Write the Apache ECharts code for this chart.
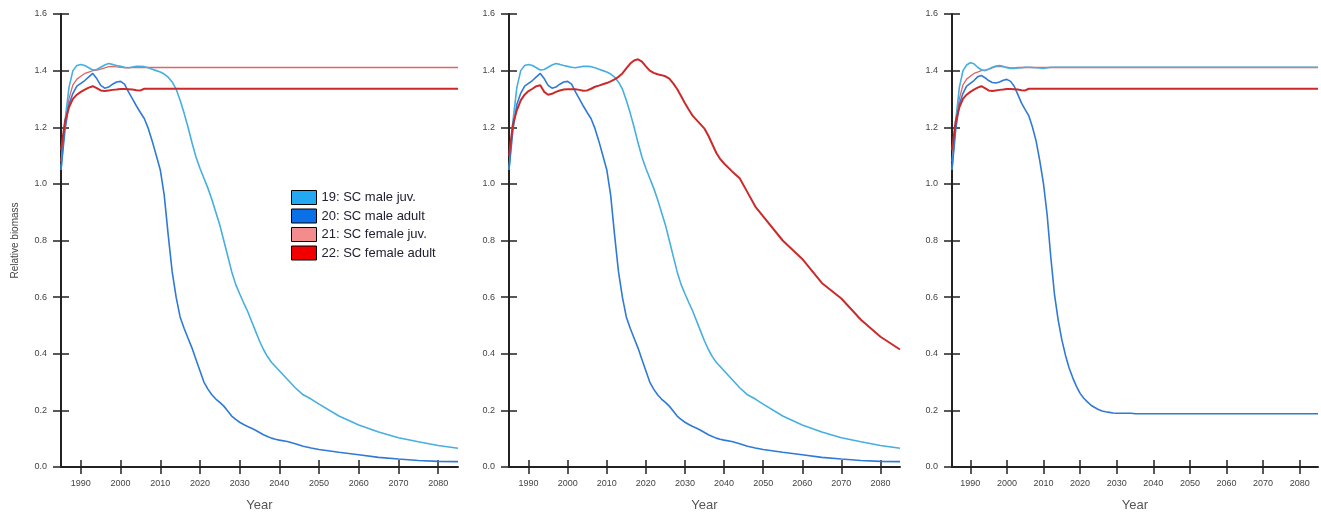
<!DOCTYPE html>
<html>
<head>
<meta charset="utf-8">
<title>Relative biomass</title>
<script src="https://cdn.jsdelivr.net/npm/echarts@6/dist/echarts.min.js"></script>
<style>
  html, body { margin: 0; padding: 0; background: #fff; }
  #chart { width: 1321px; height: 517px; }
</style>
</head>
<body>
<div id="chart"></div>
<script>
// years: annual 1985-2040, then sparser to 2085
const years = [
  1985, 1986, 1987, 1988, 1989, 1990, 1991, 1992, 1993, 1994,
  1995, 1996, 1997, 1998, 1999, 2000, 2001, 2002, 2003, 2004,
  2005, 2006, 2007, 2008, 2009, 2010, 2011, 2012, 2013, 2014,
  2015, 2016, 2017, 2018, 2019, 2020, 2021, 2022, 2023, 2024,
  2025, 2026, 2027, 2028, 2029, 2030, 2031, 2032, 2033, 2034,
  2035, 2036, 2037, 2038, 2039, 2040,
  2042, 2044, 2046, 2048, 2050, 2055, 2060, 2065, 2070, 2075, 2080, 2085
]
const yearTicks = [1990, 2000, 2010, 2020, 2030, 2040, 2050, 2060, 2070, 2080]

const seriesNames = ['19: SC male juv.', '20: SC male adult', '21: SC female juv.', '22: SC female adult']

// panels 1 and 2 (male groups)
const maleJuv = [
  1.05, 1.22, 1.34, 1.40, 1.418, 1.422, 1.418, 1.41, 1.402, 1.404,
  1.412, 1.42, 1.425, 1.422, 1.418, 1.415, 1.412, 1.41, 1.413, 1.415,
  1.415, 1.414, 1.41, 1.405, 1.40, 1.395, 1.388, 1.377, 1.36, 1.335,
  1.295, 1.25, 1.20, 1.145, 1.095, 1.055, 1.02, 0.985, 0.945, 0.90,
  0.855, 0.80, 0.745, 0.69, 0.645, 0.612, 0.58, 0.55, 0.515, 0.48,
  0.445, 0.415, 0.39, 0.37, 0.355, 0.34,
  0.31, 0.28, 0.255, 0.24, 0.222, 0.18, 0.148, 0.124, 0.103, 0.089, 0.076, 0.066
]
const maleAdult = [
  1.05, 1.19, 1.28, 1.32, 1.345, 1.355, 1.365, 1.378, 1.39, 1.372,
  1.348, 1.338, 1.342, 1.352, 1.36, 1.362, 1.352, 1.325, 1.30, 1.275,
  1.252, 1.23, 1.195, 1.15, 1.10, 1.05, 0.96, 0.82, 0.69, 0.60,
  0.53, 0.49, 0.455, 0.42, 0.38, 0.34, 0.30, 0.275, 0.255, 0.24,
  0.228, 0.215, 0.198, 0.18, 0.168, 0.158, 0.15, 0.143, 0.137, 0.13,
  0.122, 0.114, 0.108, 0.102, 0.098, 0.095,
  0.09, 0.082, 0.073, 0.067, 0.062, 0.052, 0.043, 0.034, 0.028, 0.023, 0.02, 0.019
]
// panels 1 and 3 (female groups)
const femaleJuv = [
  1.08, 1.22, 1.30, 1.35, 1.37, 1.38, 1.39, 1.395, 1.40, 1.402,
  1.405, 1.41, 1.414, 1.415, 1.413, 1.412, 1.41, 1.41, 1.411, 1.411,
  1.411, 1.411, 1.411, 1.411, 1.411, 1.411, 1.411, 1.411, 1.411, 1.411,
  1.411, 1.411, 1.411, 1.411, 1.411, 1.411, 1.411, 1.411, 1.411, 1.411,
  1.411, 1.411, 1.411, 1.411, 1.411, 1.411, 1.411, 1.411, 1.411, 1.411,
  1.411, 1.411, 1.411, 1.411, 1.411, 1.411,
  1.411, 1.411, 1.411, 1.411, 1.411, 1.411, 1.411, 1.411, 1.411, 1.411, 1.411, 1.411
]
const femaleAdult = [
  1.12, 1.22, 1.27, 1.30, 1.315, 1.325, 1.333, 1.34, 1.345, 1.338,
  1.33, 1.328, 1.33, 1.332, 1.333, 1.335, 1.335, 1.334, 1.333, 1.331,
  1.33, 1.336, 1.336, 1.336, 1.336, 1.336, 1.336, 1.336, 1.336, 1.336,
  1.336, 1.336, 1.336, 1.336, 1.336, 1.336, 1.336, 1.336, 1.336, 1.336,
  1.336, 1.336, 1.336, 1.336, 1.336, 1.336, 1.336, 1.336, 1.336, 1.336,
  1.336, 1.336, 1.336, 1.336, 1.336, 1.336,
  1.336, 1.336, 1.336, 1.336, 1.336, 1.336, 1.336, 1.336, 1.336, 1.336, 1.336, 1.336
]
// panel 2 female adult
const femaleAdult2 = [
  1.10, 1.21, 1.26, 1.295, 1.315, 1.328, 1.336, 1.345, 1.348, 1.325,
  1.315, 1.318, 1.325, 1.33, 1.333, 1.334, 1.334, 1.334, 1.332, 1.329,
  1.33, 1.336, 1.343, 1.347, 1.352, 1.356, 1.362, 1.369, 1.378, 1.39,
  1.408, 1.425, 1.436, 1.44, 1.432, 1.415, 1.40, 1.392, 1.387, 1.384,
  1.38, 1.372, 1.355, 1.335, 1.31, 1.285, 1.262, 1.24, 1.225, 1.21,
  1.195, 1.17, 1.14, 1.11, 1.088, 1.072,
  1.045, 1.02, 0.97, 0.92, 0.885, 0.80, 0.735, 0.65, 0.595, 0.52, 0.46, 0.415
]
// panel 3 male groups
const maleJuv3 = [
  1.05, 1.22, 1.34, 1.40, 1.42, 1.428, 1.424, 1.412, 1.403, 1.40,
  1.405, 1.412, 1.416, 1.418, 1.415, 1.41, 1.408, 1.408, 1.409, 1.41,
  1.412, 1.412, 1.411, 1.41, 1.409, 1.408, 1.41, 1.412, 1.412, 1.412,
  1.412, 1.412, 1.412, 1.412, 1.412, 1.412, 1.412, 1.412, 1.412, 1.412,
  1.412, 1.412, 1.412, 1.412, 1.412, 1.412, 1.412, 1.412, 1.412, 1.412,
  1.412, 1.412, 1.412, 1.412, 1.412, 1.412,
  1.412, 1.412, 1.412, 1.412, 1.412, 1.412, 1.412, 1.412, 1.412, 1.412, 1.412, 1.412
]
const maleAdult3 = [
  1.05, 1.19, 1.28, 1.32, 1.345, 1.355, 1.365, 1.378, 1.383, 1.375,
  1.365, 1.358, 1.356, 1.36, 1.366, 1.369, 1.362, 1.345, 1.315, 1.285,
  1.262, 1.24, 1.20, 1.15, 1.08, 1.0, 0.89, 0.74, 0.61, 0.52,
  0.45, 0.395, 0.35, 0.315, 0.285, 0.26, 0.243, 0.23, 0.218, 0.21,
  0.203, 0.198, 0.195, 0.193, 0.191, 0.19, 0.19, 0.19, 0.19, 0.19,
  0.188, 0.188, 0.188, 0.188, 0.188, 0.188,
  0.188, 0.188, 0.188, 0.188, 0.188, 0.188, 0.188, 0.188, 0.188, 0.188, 0.188, 0.188
]

const boxColors = ['#22a9f2', '#0b6fe8', '#f38c8c', '#f20000']
const lineColors = ['#45afe0', '#2f7ad6', '#e06666', '#cc2a2a']
const lineWidths = [1.6, 1.6, 1.3, 2]

const FONT = "'Liberation Sans', Arial, sans-serif"

const grids = [
  { left: 61, top: 14, width: 397, height: 455 },
  { left: 509, top: 14, width: 391, height: 455 },
  { left: 952, top: 14, width: 366, height: 455 }
]

// which data goes in which panel (index into seriesNames), drawn in this order
const panels = [
  [[2, femaleJuv], [0, maleJuv], [1, maleAdult], [3, femaleAdult]],
  [[0, maleJuv], [1, maleAdult], [3, femaleAdult2]],
  [[2, femaleJuv], [0, maleJuv3], [1, maleAdult3], [3, femaleAdult]]
]

let xAxes = []
let yAxes = []
let series = []

grids.forEach((g, k) => {
  // main axes (outside ticks + labels)
  xAxes.push({
    type: 'value', gridIndex: k, min: 1985, max: 2085,
    splitLine: { show: false },
    axisLine: { lineStyle: { color: '#222', width: 2 } },
    axisTick: { length: 7, customValues: yearTicks, lineStyle: { color: '#222', width: 1.5 } },
    axisLabel: { customValues: yearTicks, fontSize: 9, color: '#444', margin: 12, fontFamily: FONT, formatter: v => String(v) },
    name: 'Year', nameLocation: 'middle', nameGap: 32,
    nameTextStyle: { fontSize: 13, color: '#555', fontFamily: FONT }
  })
  // inside ticks so they cross the axis line
  xAxes.push({
    type: 'value', gridIndex: k, min: 1985, max: 2085, position: 'bottom',
    splitLine: { show: false },
    axisLine: { show: false },
    axisTick: { inside: true, length: 7, customValues: yearTicks, lineStyle: { color: '#222', width: 1.5 } },
    axisLabel: { show: false }
  })
  yAxes.push({
    type: 'value', gridIndex: k, min: 0, max: 1.6, interval: 0.2,
    splitLine: { show: false },
    axisLine: { lineStyle: { color: '#222', width: 2 } },
    axisTick: { length: 8, lineStyle: { color: '#222', width: 1.5 } },
    axisLabel: { fontSize: 9, color: '#444', margin: 14, fontFamily: FONT, formatter: v => v.toFixed(1) },
    name: k === 0 ? 'Relative biomass' : '', nameLocation: 'middle', nameGap: 41,
    nameTextStyle: { fontSize: 10, color: '#444', fontFamily: FONT }
  })
  yAxes.push({
    type: 'value', gridIndex: k, min: 0, max: 1.6, interval: 0.2, position: 'left',
    splitLine: { show: false },
    axisLine: { show: false },
    axisTick: { inside: true, length: 8, lineStyle: { color: '#222', width: 1.5 } },
    axisLabel: { show: false }
  })

  panels[k].forEach(([si, vals]) => {
    series.push({
      name: seriesNames[si],
      type: 'line',
      xAxisIndex: 2 * k,
      yAxisIndex: 2 * k,
      showSymbol: false,
      animation: false,
      itemStyle: { color: boxColors[si] },
      lineStyle: { color: lineColors[si], width: lineWidths[si] },
      data: years.map((y, i) => [y, vals[i]])
    })
  })
})

const chart = echarts.init(document.getElementById('chart'))
chart.setOption({
  animation: false,
  grid: grids,
  xAxis: xAxes,
  yAxis: yAxes,
  legend: {
    data: seriesNames,
    orient: 'vertical',
    left: 291,
    top: 190,
    icon: 'rect',
    itemWidth: 25,
    itemHeight: 14,
    itemGap: 3.5,
    padding: 0,
    itemStyle: { borderColor: '#000', borderWidth: 1 },
    textStyle: { fontSize: 13, color: '#223', fontFamily: FONT }
  },
  series: series
})
</script>
</body>
</html>
